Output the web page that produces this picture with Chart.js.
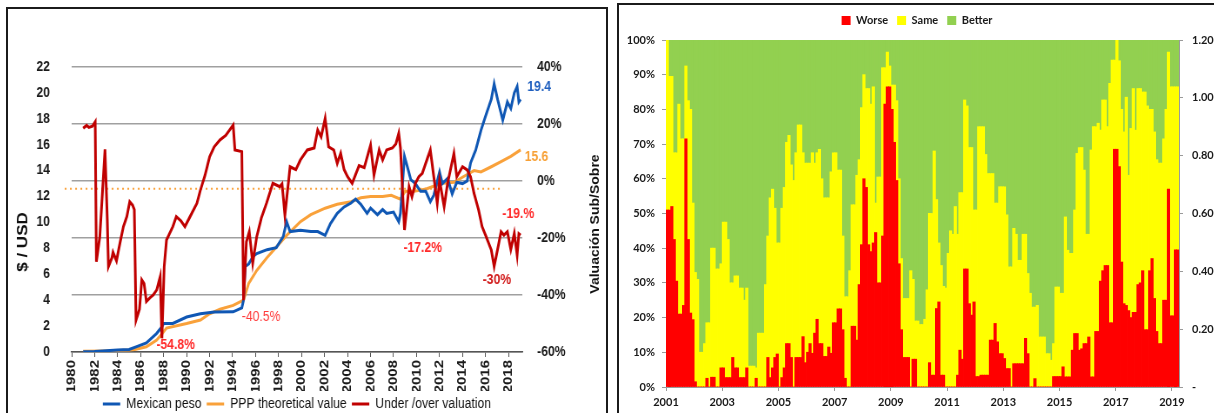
<!DOCTYPE html>
<html lang="es">
<head>
<meta charset="utf-8">
<title>Peso vs PPP / Encuesta</title>
<script src="https://cdn.jsdelivr.net/npm/chart.js@4.4.1/dist/chart.umd.min.js"></script>
<style>
  html, body { margin: 0; padding: 0; background: #fff; }
  body { position: relative; width: 1214px; height: 413px; overflow: hidden; }
  .frame { position: absolute; box-sizing: border-box; border: 2px solid #1b1b1b; }
  #frameLeft { left: 6px; top: 7px; width: 602px; height: 430px; }
  #frameRight { left: 617px; top: 3px; width: 620px; height: 430px; }
  canvas { position: absolute; }
  /* 原图左侧图表被水平压缩过, 这里同样压缩 */
  #pppChart { left: 9px; top: 10px; transform: scaleX(0.87); transform-origin: 0 0; }
  #surveyChart { left: 620px; top: 6px; }
</style>
</head>
<body>
<div class="frame" id="frameLeft"></div>
<div class="frame" id="frameRight"></div>
<canvas id="pppChart" width="685" height="413"></canvas>
<canvas id="surveyChart" width="594" height="407"></canvas>
<script>
// 字体
const ARIAL = "'Liberation Sans', Arial, sans-serif";
const CAL = "Lato, 'Open Sans', sans-serif";

// ---- 左图数据: 比索 / PPP / 低估高估 ----
const yearTicks = [1980, 1982, 1984, 1986, 1988, 1990, 1992, 1994, 1996, 1998, 2000,
  2002, 2004, 2006, 2008, 2010, 2012, 2014, 2016, 2018];

const pesoYears = [1981, 1982, 1983, 1984, 1985, 1985.6, 1986.5, 1987.4, 1987.85, 1988, 1988.8,
  1990, 1991.2, 1992.4, 1994.05, 1994.8, 1994.95, 1995.1, 1995.4, 1995.8, 1996.1, 1997,
  1997.8, 1998.4, 1998.7, 1999, 1999.9, 2000.8, 2001.4, 2002.05, 2002.5, 2003.1, 2003.7,
  2004.3, 2004.7, 2005.15, 2005.7, 2006, 2006.6, 2007.05, 2007.4, 2008, 2008.45, 2008.6,
  2008.95, 2009.2, 2009.5, 2009.9, 2010.35, 2010.8, 2011.2, 2011.5, 2012, 2012.25, 2012.7,
  2013.1, 2013.5, 2014, 2014.4, 2014.7, 2015.15, 2015.6, 2016, 2016.5, 2016.75, 2017.05,
  2017.5, 2017.9, 2018.2, 2018.5, 2018.75, 2018.9, 2019.05];
const pesoValues = [0.02, 0.03, 0.1, 0.15, 0.2, 0.4, 0.7, 1.44, 1.95, 2.2, 2.2,
  2.7, 2.95, 3.08, 3.1, 3.4, 4.0, 6.6, 6.8, 7.4, 7.6, 7.9,
  8.05, 8.9, 10.06, 9.3, 9.4, 9.3, 9.3, 9.0, 9.9, 10.7, 11.2,
  11.5, 11.8, 11.4, 10.7, 11.1, 10.6, 11.0, 10.7, 10.8, 10.06, 10.7,
  15.1, 14.3, 13.3, 13.0, 12.4, 12.4, 11.6, 12.1, 13.9, 13.0, 13.4,
  12.2, 13.1, 13.0, 13.2, 14.6, 15.6, 17.1, 18.2, 19.5, 20.7, 19.5,
  17.9, 19.3, 18.8, 20.0, 20.5, 19.3, 19.5];

const pppYears = [1981, 1983, 1985, 1985.5, 1986.5, 1987.4, 1987.9, 1988.25, 1990, 1991.2,
  1992, 1992.9, 1994.05, 1994.95, 1995.4, 1996.1, 1997, 1997.8, 1998.7, 1999.9, 2000.8,
  2002.05, 2003.1, 2004.3, 2005.15, 2006, 2007.05, 2007.8, 2008.6, 2009, 2009.8, 2010.9,
  2012.1, 2013.25, 2014.4, 2015, 2015.6, 2016.5, 2017.35, 2018.2, 2019.05];
const pppValues = [0.05, 0.08, 0.15, 0.2, 0.4, 0.93, 1.44, 1.85, 2.2, 2.47,
  2.95, 3.3, 3.6, 4.0, 5.3, 6.3, 7.3, 8.1, 9.0, 10.06, 10.6,
  11.1, 11.4, 11.6, 11.9, 12.0, 12.0, 12.1, 11.8, 12.4, 12.4, 12.6,
  13.0, 13.1, 13.7, 14.0, 13.9, 14.3, 14.7, 15.1, 15.6];

const valYears = [1981, 1981.3, 1981.5, 1981.8, 1982.05, 1982.15, 1982.45, 1982.9, 1983.1, 1983.2,
  1983.5, 1983.6, 1983.9, 1984.2, 1984.5, 1984.8, 1985.05, 1985.3, 1985.45, 1985.6, 1985.9,
  1986.1, 1986.3, 1986.5, 1986.8, 1987.1, 1987.4, 1987.7, 1987.85, 1988.05, 1988.25, 1988.8,
  1989.1, 1989.5, 1989.85, 1990.3, 1990.9, 1991.2, 1991.6, 1992, 1992.4, 1992.9, 1993.4,
  1994.05, 1994.2, 1994.8, 1994.95, 1995.2, 1995.45, 1995.75, 1996.1, 1996.5, 1996.95, 1997.5,
  1998.1, 1998.3, 1998.55, 1999, 1999.5, 1999.9, 2000.5, 2001.1, 2001.4, 2001.7, 2002.05,
  2002.35, 2002.8, 2003.1, 2003.4, 2003.7, 2004, 2004.4, 2005, 2005.45, 2006, 2006.3, 2006.75,
  2007.05, 2007.4, 2007.9, 2008.2, 2008.45, 2008.6, 2008.95, 2009.35, 2009.6, 2009.9, 2010.2,
  2010.5, 2010.9, 2011.2, 2011.5, 2011.8, 2012, 2012.4, 2012.7, 2013.25, 2013.5, 2014, 2014.4,
  2014.7, 2015, 2015.4, 2015.7, 2016, 2016.5, 2016.75, 2017.05, 2017.35, 2017.6, 2017.9,
  2018.2, 2018.5, 2018.75, 2018.9, 2019.05];
const valPct = [18.5, 19.5, 18.8, 19.2, 20.8, -28.3, -19.5, 11.1, -13.7, -30,
  -27, -25, -28, -21.8, -16, -12.5, -7.3, -8.5, -10, -48.8, -45,
  -34.7, -36, -42.3, -41, -40, -38.2, -33.6, -55.2, -30, -20.7, -16,
  -12.5, -14, -16, -12.5, -7.8, -3.2, 2, 8.5, 12, 14.4, 16,
  19.6, 10.9, 10.3, -41.8, -21.3, -17.8, -28.8, -19.5, -13, -7.8, -0.8,
  -2, -1, -12, 5, 4, 7.4, 10.9, 11.6, 17.9, 15.5, 22,
  12, 10.9, 6.2, 9.7, 4, 1.5, -0.8, 5.4, 4.7, 12.6, 2.1, 10.9,
  7.4, 10.9, 11.6, 13, 16.7, 11.6, -17.2, -2, -5.5, -0.8, 1.5,
  2.7, 7.4, 10.9, 1.5, -7.8, 0.3, -9, -0.8, 9.7, 1.5, 5, 3.9,
  1.5, -4.3, -10.2, -16, -19, -24.2, -30, -24, -17.8, -19, -17.8,
  -24, -18.4, -26, -18.5, -19];

// 橙色虚线 (参考水平线)
const refYears = [1979.4, 2017.4];
const refValues = [12.6, 12.6];

// 数据标签 (数据坐标)
const notes = [
  { text: '19.4', x: 2019.64, y: 20.44, axis: 'y', color: '#1F5FBF', align: 'left', bold: true },
  { text: '15.6', x: 2019.4, y: 15.08, axis: 'y', color: '#F7A035', align: 'left', bold: true },
  { text: '-19.%', x: 2017.46, y: -11.6, axis: 'y1', color: '#FF2A2A', align: 'left', bold: true },
  { text: '-17.2%', x: 2010.54, y: -23.6, axis: 'y1', color: '#FF2A2A', align: 'center', bold: true },
  { text: '-30%', x: 2016.99, y: -34.7, axis: 'y1', color: '#D11A1A', align: 'center', bold: true },
  { text: '-40.5%', x: 1996.48, y: -47.6, axis: 'y1', color: '#FF3B3B', align: 'center', bold: false },
  { text: '-54.8%', x: 1989.05, y: -57.5, axis: 'y1', color: '#FF2A2A', align: 'center', bold: true }
];

// ---- 右图数据: 月度调查 (2001-01 起) ----
const surveyStart = 2001;
const surveyTicks = [2001, 2003, 2005, 2007, 2009, 2011, 2013, 2015, 2017, 2019];
const worse = [
  51, 51, 52, 42.5, 30.5, 21, 21, 23.5, 71.5, 42.5, 21.3, 19.4,
  1.5, 0, 0, 0, 0, 2.5, 0, 2.8, 2.8, 0, 0, 5.5,
  5.5, 2.7, 2.7, 2.7, 8.5, 5.5, 5.5, 2.7, 2.7, 2.7, 5.5, 0,
  0, 0, 2.5, 0, 0, 0, 0, 8.5, 2.7, 5.5, 8.5, 9.5,
  0, 2.7, 5.5, 12.5, 12.5, 8.5, 0, 8.5, 8.5, 8.5, 14.5, 7,
  10, 12.5, 9.7, 15.5, 19.5, 12.5, 12.5, 8.8, 8.8, 11.5, 9.7, 18.5,
  18.5, 22.5, 22.5, 16.5, 2.5, 0, 0, 17.5, 17.5, 13.5, 29.5, 41,
  60, 57.5, 41, 39, 41.5, 44.5, 30, 30, 43.5, 81.5, 86.5, 86.5,
  80, 70.5, 59.5, 35.5, 16.5, 8.5, 8.5, 8.5, 0, 8, 8, 0,
  0, 0, 0, 0, 7, 3.4, 3.4, 22.6, 24.5, 3.4, 3.4, 0,
  0, 0, 0, 0, 3.4, 10.6, 8, 34, 34, 24, 20.7, 24.5,
  3, 3, 3.4, 3.4, 3.4, 3.4, 13.5, 13.5, 18.3, 13, 9.6, 9.6,
  8.2, 5.3, 5.3, 0, 6.7, 6.7, 6.7, 6.7, 6.7, 14, 9.6, 0,
  0, 2.4, 0, 0, 0, 0, 0, 0, 0, 3, 3, 3,
  3, 5.8, 2.9, 2.9, 2.9, 10.6, 15.4, 15.4, 10.6, 11, 12.5, 12.5,
  14.4, 2.9, 2.9, 16, 16, 30.5, 33.5, 35, 35, 18.5, 18.5, 68.5,
  68.5, 63.5, 36, 24, 23.5, 22, 20, 21.5, 21.5, 29.5, 30, 33.5,
  16.5, 16.5, 33.5, 37, 25.5, 16, 12.5, 12.5, 25, 25, 57, 20.5,
  20.5, 39.5, 39.5
];
const same = [
  49, 38.5, 37.5, 25, 37, 60.5, 50.5, 48, 21, 40, 58.7, 33.6,
  31.5, 31, 10, 10, 12.5, 16, 18.5, 37.2, 37.2, 34, 34, 30,
  42, 44.8, 39.8, 27.3, 21.5, 26.5, 26.5, 25.8, 25.8, 22.3, 23, 6,
  6, 6, 3, 15.5, 15.5, 15.5, 29.5, 35, 51.8, 51.5, 43, 32,
  41.5, 48.8, 52, 58, 60, 55.5, 59.5, 59, 67, 67, 53, 57.5,
  54.5, 52, 57.8, 49, 48, 56, 47.5, 45.7, 45.7, 43, 52.3, 49,
  49, 40, 40, 27, 23.5, 26, 33.5, 35, 35, 47.5, 36, 39.5,
  30, 28.5, 45, 42.5, 45, 8.5, 30.5, 30.5, 48.5, 10.5, 10, 6,
  7, 16.5, 23, 24.5, 20.5, 17, 17, 17, 33.5, 23, 11, 19,
  18, 18, 19.5, 28, 43, 46.6, 64.6, 31.4, 17, 31.6, 25.6, 28.5,
  38.5, 45, 44, 52, 40.6, 45.4, 48, 48.7, 47, 45, 48.3, 26.5,
  48, 72, 71.6, 71.6, 63.6, 58.1, 48, 48, 34.7, 40, 48.1, 48.1,
  49.5, 44.3, 29.3, 34.6, 39, 37.3, 29.8, 29.8, 37.3, 30, 23.1, 27,
  23, 20.6, 23.5, 14.4, 14.4, 14.4, 9.6, 9.6, 7.7, 9.5, 25.8, 25.8,
  24, 21.2, 46.1, 36.5, 35.6, 27.9, 35.6, 51.9, 58.4, 58, 50, 31.5,
  29.6, 65.4, 72.1, 59, 60, 43.5, 49.2, 47.7, 40, 69, 75.7, 25.7,
  31.5, 30.5, 44, 49.5, 60, 39, 54.5, 64.5, 52.5, 56.5, 56, 51.5,
  68.5, 64.5, 46.5, 43, 48, 49.5, 52, 52, 46.5, 55, 39.5, 66,
  66, 47, 47
];

// 颜色
const BLUE = '#0F57B4';
const ORANGE = '#F9A13A';
const DARK_RED = '#C00000';

const toPoints = (xs, ys) => xs.map((x, i) => ({ x, y: ys[i] }));
const monthX = (i) => surveyStart + (i + 0.5) / 12;
const better = worse.map((w, i) => Math.max(0, +(100 - w - same[i]).toFixed(1)));

// 左图: 标签 + 轴标题
const pppDecor = {
  id: 'pppDecor',
  afterDatasetsDraw(chart) {
    const { ctx, scales } = chart;
    ctx.save();
    ctx.textBaseline = 'middle';
    notes.forEach(n => {
      ctx.font = `${n.bold ? 'bold ' : ''}14px ${ARIAL}`;
      ctx.fillStyle = n.color;
      ctx.textAlign = n.align;
      ctx.fillText(n.text, scales.x.getPixelForValue(n.x), scales[n.axis].getPixelForValue(n.y));
    });
    ctx.restore();

    const titles = [
      { text: '$ / USD', x: 16, y: 232, size: 17 },
      { text: 'Valuación Sub/Sobre', x: 674, y: 214, size: 14 }
    ];
    titles.forEach(t => {
      ctx.save();
      ctx.fillStyle = '#111';
      ctx.textAlign = 'center';
      ctx.textBaseline = 'middle';
      ctx.translate(t.x, t.y);
      ctx.rotate(-Math.PI / 2);
      ctx.font = `bold ${t.size}px ${ARIAL}`;
      ctx.fillText(t.text, 0, 0);
      ctx.restore();
    });
  }
};

// 右图: 图例下方留白
const legendSpacer = {
  id: 'legendSpacer',
  beforeInit(chart, args, opts) {
    const origFit = chart.legend.fit;
    chart.legend.fit = function fit() {
      origFit.bind(chart.legend)();
      this.height += opts.extra || 0;
    };
  }
};

const tickFontL = { family: ARIAL, size: 14, weight: 'bold' };

new Chart(document.getElementById('pppChart'), {
  type: 'line',
  data: {
    datasets: [
      { label: 'Mexican peso', data: toPoints(pesoYears, pesoValues), yAxisID: 'y',
        borderColor: BLUE, backgroundColor: BLUE, borderWidth: 3, pointRadius: 0, order: 1 },
      { label: 'PPP theoretical value', data: toPoints(pppYears, pppValues), yAxisID: 'y',
        borderColor: ORANGE, backgroundColor: ORANGE, borderWidth: 3, pointRadius: 0, order: 2 },
      { label: 'Under /over valuation', data: toPoints(valYears, valPct), yAxisID: 'y1',
        borderColor: DARK_RED, backgroundColor: DARK_RED, borderWidth: 3, pointRadius: 0, order: 0 },
      { label: '', data: toPoints(refYears, refValues), yAxisID: 'y',
        borderColor: ORANGE, borderWidth: 2, borderDash: [2, 4], pointRadius: 0, clip: false, order: 3 }
    ]
  },
  options: {
    responsive: false,
    animation: false,
    layout: { padding: { top: 57, bottom: 2, left: 0, right: 0 } },
    plugins: {
      legend: {
        position: 'bottom',
        fullSize: false,
        labels: {
          usePointStyle: true,
          pointStyle: 'line',
          pointStyleWidth: 20,
          padding: 6,
          color: '#111',
          font: { family: ARIAL, size: 14 },
          filter: item => item.text !== '',
          sort: (a, b) => a.datasetIndex - b.datasetIndex
        }
      },
      tooltip: { enabled: false }
    },
    scales: {
      x: {
        type: 'linear',
        min: 1980,
        max: 2019.2,
        afterBuildTicks: s => { s.ticks = yearTicks.map(v => ({ value: v })); },
        afterFit: s => { s.height = 39; },
        ticks: {
          callback: v => String(v),
          minRotation: 90, maxRotation: 90,
          padding: 3,
          color: '#1a1a1a',
          font: { family: ARIAL, size: 15, weight: 'bold' }
        },
        grid: { drawOnChartArea: false, drawTicks: true, tickLength: 5, color: '#555' },
        border: { display: true, color: '#555', width: 1.5 }
      },
      y: {
        position: 'left',
        min: 0, max: 22,
        afterFit: s => { s.width = 72; },
        ticks: { stepSize: 2, padding: 17, color: '#1a1a1a', font: tickFontL },
        grid: { display: false },
        border: { display: false }
      },
      y1: {
        position: 'right',
        min: -60, max: 40,
        afterFit: s => { s.width = 95; },
        ticks: { stepSize: 20, padding: 17, color: '#1a1a1a', font: tickFontL, callback: v => v + '%' },
        grid: { color: '#a0a0a0', lineWidth: 1.5, drawTicks: false },
        border: { display: false }
      }
    }
  },
  plugins: [pppDecor]
});

const tickFontR = { family: CAL, size: 11, weight: 'bold' };
const axisGrey = '#9a9a9a';

new Chart(document.getElementById('surveyChart'), {
  type: 'bar',
  data: {
    datasets: [
      { label: 'Worse', data: worse.map((v, i) => ({ x: monthX(i), y: v })), backgroundColor: '#FF0000' },
      { label: 'Same', data: same.map((v, i) => ({ x: monthX(i), y: v })), backgroundColor: '#FFFF00' },
      { label: 'Better', data: better.map((v, i) => ({ x: monthX(i), y: v })), backgroundColor: '#92D050' }
    ]
  },
  options: {
    responsive: false,
    animation: false,
    datasets: { bar: { barPercentage: 1, categoryPercentage: 1, borderWidth: 0, inflateAmount: 0.4 } },
    layout: { padding: 0 },
    plugins: {
      legend: {
        position: 'top',
        labels: { boxWidth: 9, boxHeight: 9, padding: 9, color: '#1a1a1a', font: tickFontR }
      },
      legendSpacer: { extra: 4 },
      tooltip: { enabled: false }
    },
    scales: {
      x: {
        type: 'linear',
        stacked: true,
        offset: false,
        min: 2001, max: 2019.25,
        afterBuildTicks: s => { s.ticks = surveyTicks.map(v => ({ value: v })); },
        afterFit: s => { s.height = 26; },
        ticks: { callback: v => String(v), maxRotation: 0, padding: 5, color: '#1a1a1a', font: tickFontR },
        grid: { offset: false, drawOnChartArea: false, tickLength: 4, color: axisGrey },
        border: { color: axisGrey }
      },
      y: {
        stacked: true,
        min: 0, max: 100,
        afterFit: s => { s.width = 46; },
        ticks: { stepSize: 10, padding: 7, color: '#1a1a1a', font: tickFontR, callback: v => v + '%' },
        grid: { drawOnChartArea: false, tickLength: 4, color: axisGrey },
        border: { color: axisGrey }
      },
      y2: {
        position: 'right',
        min: 0, max: 1.2,
        afterFit: s => { s.width = 35; },
        ticks: { stepSize: 0.2, padding: 9, color: '#1a1a1a', font: tickFontR,
          callback: v => (Math.abs(v) < 1e-9 ? '-' : v.toFixed(2)) },
        grid: { drawOnChartArea: false, tickLength: 4, color: axisGrey },
        border: { color: axisGrey }
      }
    }
  },
  plugins: [legendSpacer]
});
</script>
</body>
</html>
